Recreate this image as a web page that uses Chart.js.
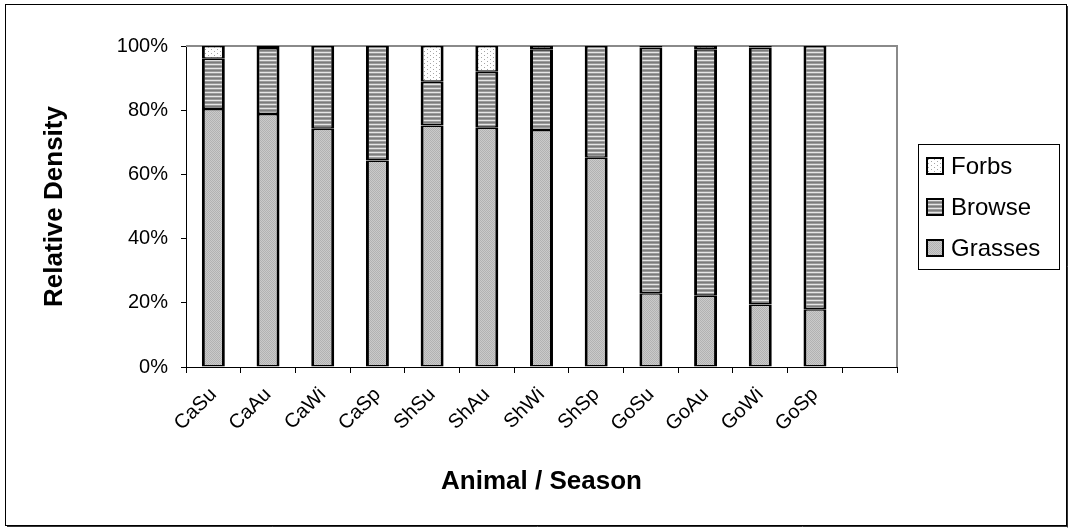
<!DOCTYPE html>
<html>
<head>
<meta charset="utf-8">
<script src="https://cdn.jsdelivr.net/npm/chart.js@4/dist/chart.umd.min.js"></script>
<style>
  html, body { margin: 0; padding: 0; background: #fff; }
  canvas { display: block; }
</style>
</head>
<body>
<canvas id="chart" width="1070" height="529"></canvas>
<script>
// Diet composition (share of relative density) per animal / season
const categories = ['CaSu', 'CaAu', 'CaWi', 'CaSp', 'ShSu', 'ShAu', 'ShWi', 'ShSp', 'GoSu', 'GoAu', 'GoWi', 'GoSp', ''];
const grasses = [80.4, 78.8, 74.2, 64.3, 75.2, 74.5, 73.8, 65.2, 23.0, 22.2, 19.5, 18.0, null];
const browse  = [15.6, 20.6, 25.8, 35.7, 13.7, 17.5, 25.2, 34.8, 76.5, 76.8, 80.0, 82.0, null];
const forbs   = [4.0, 0.6, 0.0, 0.0, 11.1, 8.0, 1.0, 0.0, 0.5, 1.0, 0.5, 0.0, null];
const yTicks  = [0, 20, 40, 60, 80, 100];

const FONT = '"Liberation Sans", Arial, sans-serif';

// Small repeating fills for the three diet classes
function makePattern(w, h, draw) {
  const c = document.createElement('canvas');
  c.width = w; c.height = h;
  const g = c.getContext('2d');
  draw(g);
  return g.createPattern(c, 'repeat');
}
const grassFill = makePattern(2, 2, g => {
  g.fillStyle = '#cacaca'; g.fillRect(0, 0, 2, 2);
  g.fillStyle = '#b2b2b2'; g.fillRect(0, 0, 1, 1); g.fillRect(1, 1, 1, 1);
});
const browseFill = makePattern(8, 4, g => {
  g.fillStyle = '#9a9a9a'; g.fillRect(0, 0, 8, 4);
  g.fillStyle = '#e6e6e6'; g.fillRect(0, 0, 8, 1);
  g.fillStyle = '#7c7c7c'; g.fillRect(0, 2, 8, 1);
});
const forbFill = makePattern(6, 4, g => {
  g.fillStyle = '#ffffff'; g.fillRect(0, 0, 6, 4);
  g.fillStyle = '#a6a6a6'; g.fillRect(1, 1, 1, 1); g.fillRect(4, 3, 1, 1);
});

// Outer chart frame and grey plot-area outline
const framePlugin = {
  id: 'frame',
  beforeDraw(chart) {
    const c = chart.ctx;
    c.save();
    c.fillStyle = '#fff';
    c.fillRect(0, 0, chart.width, chart.height);
    c.strokeStyle = '#000';
    c.lineWidth = 1;
    c.strokeRect(5.5, 4.5, 1061, 521);
    c.strokeStyle = '#333';
    c.beginPath();
    c.moveTo(1067.5, 6); c.lineTo(1067.5, 527.5);
    c.moveTo(7, 526.5); c.lineTo(1067.5, 526.5);
    c.stroke();
    c.restore();
  },
  beforeDatasetsDraw(chart) {
    const a = chart.chartArea;
    const c = chart.ctx;
    c.save();
    c.strokeStyle = '#8a8a8a';
    c.lineWidth = 2;
    c.beginPath();
    c.moveTo(a.left, a.top); c.lineTo(a.right, a.top); c.lineTo(a.right, a.bottom);
    c.stroke();
    c.restore();
  }
};

// Boxed legend on the right, top item = last dataset
const boxLegend = {
  id: 'boxLegend',
  afterDraw(chart) {
    const c = chart.ctx;
    const bx = 918, by = 144, bw = 141, bh = 125;
    c.save();
    c.strokeStyle = '#000';
    c.lineWidth = 1;
    c.strokeRect(bx + 0.5, by + 0.5, bw, bh);
    const items = chart.data.datasets.slice().reverse();
    c.font = '24px ' + FONT;
    c.textBaseline = 'middle';
    c.fillStyle = '#000';
    items.forEach((ds, i) => {
      const cy = by + 22 + i * 41;
      c.fillStyle = ds.backgroundColor;
      c.fillRect(927, cy - 8, 16, 16);
      c.strokeStyle = '#000';
      c.lineWidth = 2;
      c.strokeRect(927, cy - 8, 16, 16);
      c.fillStyle = '#000';
      c.fillText(ds.label, 951, cy + 1);
    });
    c.restore();
  }
};

const barStyle = {
  borderColor: '#000',
  borderSkipped: false,
  borderWidth: { top: 1.5, bottom: 1.5, left: 3, right: 3 },
  categoryPercentage: 1,
  barPercentage: 0.42
};

new Chart(document.getElementById('chart'), {
  type: 'bar',
  data: {
    labels: categories,
    datasets: [
      Object.assign({ label: 'Grasses', data: grasses, backgroundColor: grassFill }, barStyle),
      Object.assign({ label: 'Browse', data: browse, backgroundColor: browseFill }, barStyle),
      Object.assign({ label: 'Forbs', data: forbs, backgroundColor: forbFill }, barStyle)
    ]
  },
  options: {
    responsive: false,
    animation: false,
    events: [],
    layout: { padding: { left: 0, top: 46, right: 173, bottom: 0 } },
    plugins: { legend: { display: false }, tooltip: { enabled: false } },
    scales: {
      x: {
        stacked: true,
        grid: { offset: true, drawOnChartArea: false, tickLength: 6, color: '#000' },
        border: { color: '#000', width: 1 },
        ticks: {
          autoSkip: false, maxRotation: 45, minRotation: 45, padding: 10,
          color: '#000', font: { family: FONT, size: 20 }
        },
        title: {
          display: true, text: 'Animal / Season', color: '#000',
          font: { family: FONT, size: 26, weight: 'bold' },
          padding: { top: 0, bottom: 32 }
        },
        afterFit(s) { s.height = 162; }
      },
      y: {
        stacked: true,
        min: 0, max: 100,
        afterBuildTicks(s) { s.ticks = yTicks.map(v => ({ value: v })); },
        ticks: {
          padding: 13, color: '#000',
          font: { family: FONT, size: 20 },
          callback: v => v + '%'
        },
        grid: { drawOnChartArea: false, tickLength: 5, color: '#000' },
        border: { color: '#000', width: 1 },
        title: {
          display: true, text: 'Relative Density', color: '#000',
          font: { family: FONT, size: 26, weight: 'bold' },
          padding: { top: 39, bottom: 0 }
        },
        afterFit(s) { s.width = 186; }
      }
    }
  },
  plugins: [framePlugin, boxLegend]
});
</script>
</body>
</html>
